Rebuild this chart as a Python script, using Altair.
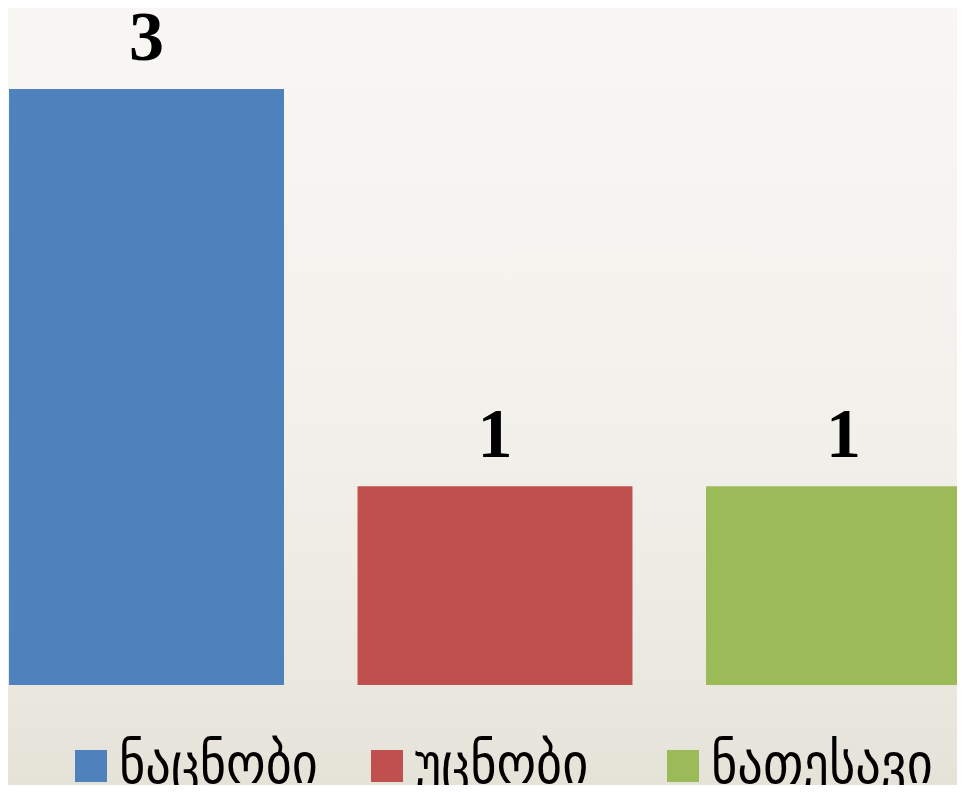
import altair as alt
import pandas as pd

categories = ["ნაცნობი", "უცნობი", "ნათესავი"]
values = [3, 1, 1]
colors = ["#4F81BD", "#C0504D", "#9BBB59"]

df = pd.DataFrame({"cat": categories, "val": values})
bg_df = pd.DataFrame({"k": [0]})

W = 949
H = 677

bg = alt.Chart(bg_df).mark_rect(
    color=alt.Gradient(
        gradient="linear",
        stops=[
            alt.GradientStop(color="#f8f7f4", offset=0),
            alt.GradientStop(color="#f3f1ec", offset=0.5),
            alt.GradientStop(color="#ebe8e0", offset=0.85),
            alt.GradientStop(color="#e4e1d7", offset=1),
        ],
        x1=0, x2=0, y1=0, y2=1,
    )
).encode(
    x=alt.value(-5), x2=alt.value(W + 5), y=alt.value(-5), y2=alt.value(790)
)

xs = alt.X("cat:N", sort=categories, scale=alt.Scale(range=[0, 974], paddingInner=0.211, paddingOuter=0.003),
           axis=alt.Axis(labels=False, ticks=False, title=None, domainColor="#d9d7d0", domainWidth=2))
ys = alt.Y("val:Q", scale=alt.Scale(domain=[0, H / 198.67], nice=False), axis=None)

bars = alt.Chart(df).mark_bar(clip=True).encode(
    x=xs,
    y=ys,
    color=alt.Color("cat:N", sort=categories,
                    scale=alt.Scale(domain=categories, range=colors),
                    legend=alt.Legend(orient="none", legendX=55, legendY=730, direction="horizontal",
                                      title=None, symbolType="square", symbolSize=1024,
                                      symbolStrokeWidth=0, symbolOpacity=1,
                                      labelFontSize=56, labelFont="DejaVu Sans Condensed",
                                      labelColor="black", labelOffset=0, columnPadding=18,
                                      gridAlign="all",
                                      labelLimit=500, padding=0)),
)

labels = alt.Chart(df).mark_text(
    baseline="alphabetic", dy=-29, font="Liberation Serif", fontWeight="bold", fontSize=70, color="black"
).encode(x=alt.X("cat:N", sort=categories), y=ys, text="val:Q")

chart = alt.layer(bg, bars, labels).properties(
    width=W, height=H,
    autosize=alt.AutoSizeParams(type="none"),
    padding={"left": 0, "top": 0, "right": 0, "bottom": 100},
    background="#f3f1ec",
).configure_view(stroke=None)

chart.save("out.html", embed_options={"renderer": "svg", "actions": False})
